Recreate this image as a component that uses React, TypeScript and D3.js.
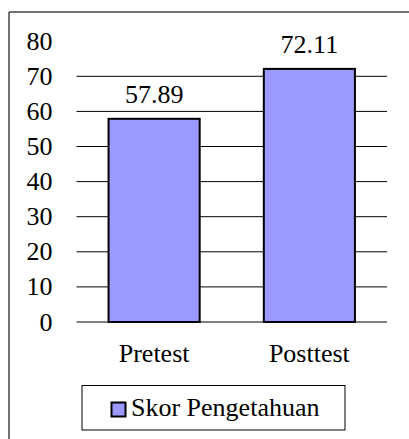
import React from "react";
import * as d3 from "d3";

const categories = ["Pretest", "Posttest"];
const values = [57.89, 72.11];
const valueLabels = ["57.89", "72.11"];
const yTicks = [0, 10, 20, 30, 40, 50, 60, 70, 80];
const gridTicks = [0, 10, 20, 30, 40, 50, 60, 70];
const seriesName = "Skor Pengetahuan";

export default function App() {
  const W = 409;
  const H = 439;
  const fam: React.CSSProperties = { fontFamily: '"Liberation Serif"' };
  const fs = 26;
  const y = d3.scaleLinear().domain([0, 80]).range([322, 41.2]);
  const x = d3
    .scaleBand<string>()
    .domain(categories)
    .range([76.5, 387])
    .paddingInner(0.413)
    .paddingOuter(0.2065);

  return (
    <svg
      width={W}
      height={H}
      style={{ position: "absolute", left: 0, top: 0, background: "#fff" }}
    >
      <rect x={0} y={0} width={W} height={H} fill="#fff" />
      {/* outer frame */}
      <line x1={9} y1={12} x2={W} y2={12} stroke="#444" strokeWidth={1.5} />
      <line x1={9} y1={12} x2={9} y2={H} stroke="#444" strokeWidth={1.5} />

      {gridTicks.map((t) => (
        <line
          key={"g" + t}
          x1={76.5}
          x2={387}
          y1={y(t)}
          y2={y(t)}
          stroke="#000"
          strokeWidth={1}
        />
      ))}

      {yTicks.map((t) => (
        <text
          key={"t" + t}
          x={52.5}
          y={y(t) + 8.5}
          textAnchor="end"
          fontSize={fs}
          style={fam}
          fill="#000"
        >
          {t}
        </text>
      ))}

      {categories.map((c, i) => (
        <g key={c}>
          <rect
            x={x(c)!}
            y={y(values[i])}
            width={x.bandwidth()}
            height={y(0) - y(values[i])}
            fill="#9999FF"
            stroke="#000"
            strokeWidth={2}
          />
          <text
            x={x(c)! + x.bandwidth() / 2}
            y={y(values[i]) - 16}
            textAnchor="middle"
            fontSize={fs}
            style={fam}
            fill="#000"
          >
            {valueLabels[i]}
          </text>
          <text
            x={x(c)! + x.bandwidth() / 2}
            y={362}
            textAnchor="middle"
            fontSize={fs}
            style={fam}
            fill="#000"
          >
            {c}
          </text>
        </g>
      ))}

      {/* legend */}
      <rect x={82} y={385.5} width={263} height={44.5} fill="#fff" stroke="#000" strokeWidth={1} />
      <rect x={111.5} y={402.5} width={14} height={14} fill="#9999FF" stroke="#000" strokeWidth={2} />
      <text x={131} y={416} fontSize={fs} style={fam} fill="#000">
        {seriesName}
      </text>
    </svg>
  );
}
